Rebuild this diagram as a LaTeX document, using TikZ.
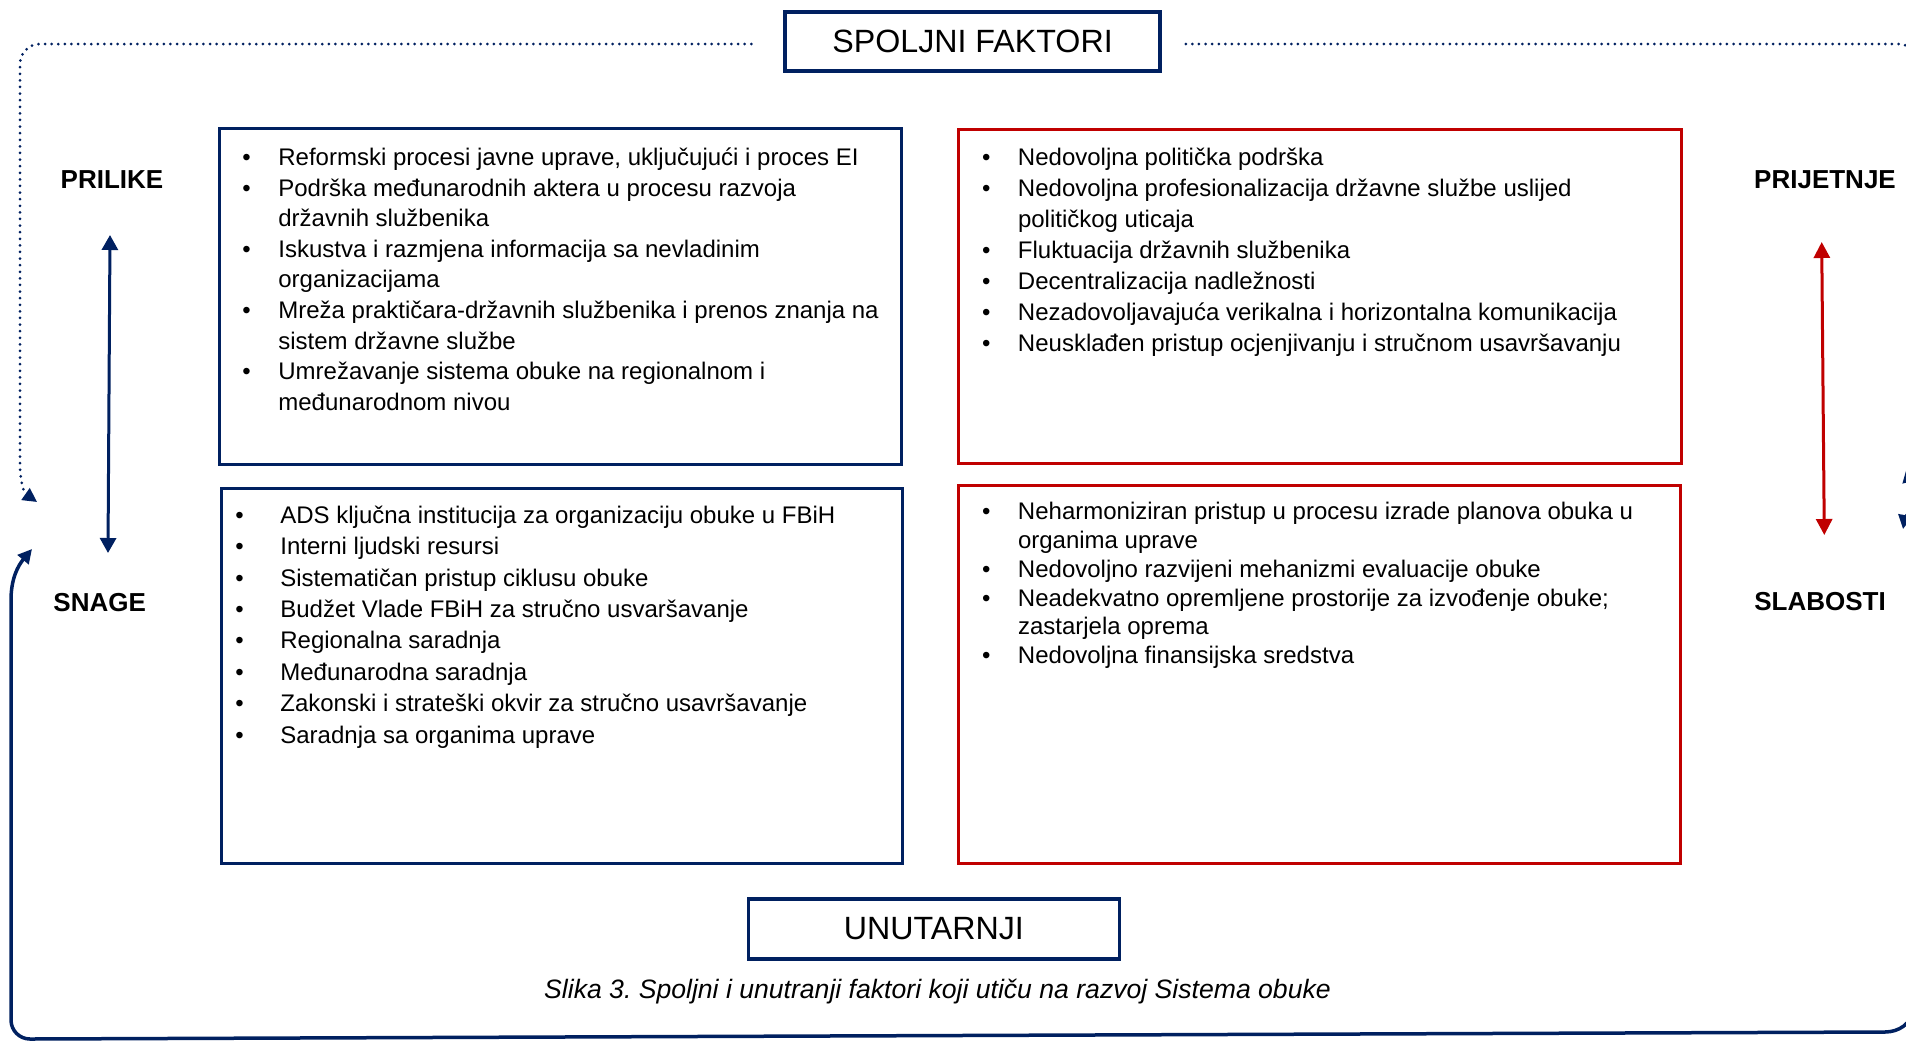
\documentclass[tikz,border=0pt]{standalone}
\usepackage{fontspec}
\setmainfont{Liberation Sans}
\usetikzlibrary{arrows.meta}
\definecolor{navy}{RGB}{0,32,96}
\definecolor{boxred}{RGB}{192,0,0}
\newcommand\bul[1][18pt]{\strut\llap{\makebox[#1][l]{\textbullet}}}
\tikzset{
  nbox/.style={draw=navy, line width=1.5pt, inner sep=0},
  rbox/.style={draw=boxred, line width=1.5pt, inner sep=0},
  head/.style={draw=navy, line width=1.75pt, inner sep=0, font=\fontsize{16.1}{18}\selectfont},
  lbl/.style={anchor=base, inner sep=0, font=\fontsize{13}{15}\selectfont\bfseries},
  txt/.style={anchor=north west, align=left, inner sep=0},
  dotline/.style={navy, line width=1.5pt, dash pattern=on 0pt off 3.3pt, line cap=round},
  outline/.style={navy, line width=1.75pt},
  tipn/.style={-{Triangle[width=7pt,length=7pt]}},
}
\begin{document}
\frenchspacing
\begin{tikzpicture}[x=0.5pt,y=-0.5pt]
\useasboundingbox (0,0) rectangle (1906,1040);
\clip (0,0) rectangle (1906,1040);

% header boxes
\node[head, minimum width=187.5pt, minimum height=29.5pt] (spo) at (972.5,41.5) {SPOLJNI FAKTORI};
\node[head, minimum width=185.5pt, minimum height=30pt] (unu) at (933.8,929) {UNUTARNJI};

% quadrant boxes
\node[nbox, minimum width=341.25pt, minimum height=168pt] (tl) at (560.25,296) {};
\node[rbox, minimum width=361.5pt, minimum height=167pt] (tr) at (1320,296.5) {};
\node[nbox, minimum width=340.9pt, minimum height=187.5pt] (bl) at (562,675.8) {};
\node[rbox, minimum width=360.8pt, minimum height=189pt] (br) at (1319.2,674) {};

% texts
\node[txt, font=\fontsize{12}{15.3}\selectfont] (tltxt) at (278,143.6) {%
\bul Reformski procesi javne uprave, uključujući i proces EI\\
\bul Podrška međunarodnih aktera u procesu razvoja\\
državnih službenika\\
\bul Iskustva i razmjena informacija sa nevladinim\\
organizacijama\\
\bul Mreža praktičara-državnih službenika i prenos znanja na\\
sistem državne službe\\
\bul Umrežavanje sistema obuke na regionalnom i\\
međunarodnom nivou};

\node[txt, font=\fontsize{12}{15.45}\selectfont] (trtxt) at (1017.6,143.8) {%
\bul Nedovoljna politička podrška\\
\bul Nedovoljna profesionalizacija državne službe uslijed\\
političkog uticaja\\
\bul Fluktuacija državnih službenika\\
\bul Decentralizacija nadležnosti\\
\bul Nezadovoljavajuća verikalna i horizontalna komunikacija\\
\bul Neusklađen pristup ocjenjivanju i stručnom usavršavanju};

\node[txt, font=\fontsize{12}{15.7}\selectfont] (bltxt) at (280,501) {%
\bul[22.5pt]ADS ključna institucija za organizaciju obuke u FBiH\\
\bul[22.5pt]Interni ljudski resursi\\
\bul[22.5pt]Sistematičan pristup ciklusu obuke\\
\bul[22.5pt]Budžet Vlade FBiH za stručno usvaršavanje\\
\bul[22.5pt]Regionalna saradnja\\
\bul[22.5pt]Međunarodna saradnja\\
\bul[22.5pt]Zakonski i strateški okvir za stručno usavršavanje\\
\bul[22.5pt]Saradnja sa organima uprave};

\node[txt, font=\fontsize{12}{14.45}\selectfont] (brtxt) at (1017.6,498.7) {%
\bul Neharmoniziran pristup u procesu izrade planova obuka u\\
organima uprave\\
\bul Nedovoljno razvijeni mehanizmi evaluacije obuke\\
\bul Neadekvatno opremljene prostorije za izvođenje obuke;\\
zastarjela oprema\\
\bul Nedovoljna finansijska sredstva};

% side labels
\node[lbl] (pri) at (112,188) {PRILIKE};
\node[lbl] (sna) at (99.7,611) {SNAGE};
\node[lbl] (pje) at (1825,188) {PRIJETNJE};
\node[lbl] (sla) at (1820,610.7) {SLABOSTI};

% vertical arrows
\coordinate (ba) at (110,235);
\coordinate (bb) at (108,553);
\draw[navy, line width=1.5pt, {Triangle[width=8pt,length=7.5pt]}-{Triangle[width=8pt,length=7.5pt]}] (ba) -- (bb);
\coordinate (ra) at (1821.7,242);
\coordinate (rb) at (1824.3,535);
\draw[boxred, line width=1.5pt, {Triangle[width=8pt,length=8pt]}-{Triangle[width=8pt,length=8pt]}] (ra) -- (rb);

% outer dotted line (external factors)
\coordinate (dl) at (37,502);
\coordinate (dr) at (1903,529);
\draw[dotline, tipn] ([xshift=-16pt]spo.west |- 0,44) -- (40,44) to[out=180,in=90] (20,64) -- (20,465) to[out=-90,in=145] (dl);
\draw[dotline, tipn] ([xshift=12pt]spo.east |- 0,44) -- (1898,44) to[out=0,in=90] (1920,66) -- (1920,495) to[out=-90,in=80] (dr);

% outer solid line (internal factors)
\coordinate (sl) at (32,549);
\coordinate (sr) at (1907,467);
\draw[outline, {Triangle[width=7pt,length=7pt]}-{Triangle[width=8pt,length=7.5pt]}] (sl) to[out=-130,in=90] (11,600) -- (11,1020) to[out=-90,in=180] (30,1039) -- (1885,1032) to[out=0,in=-90] (1912,1010) -- (1912,500) to[out=90,in=-76] (sr);

% caption
\node[anchor=base, inner sep=0, font=\fontsize{13.3}{15}\selectfont\itshape] (cap) at (937.5,998) {Slika 3. Spoljni i unutranji faktori koji utiču na razvoj Sistema obuke};
\end{tikzpicture}
\end{document}
